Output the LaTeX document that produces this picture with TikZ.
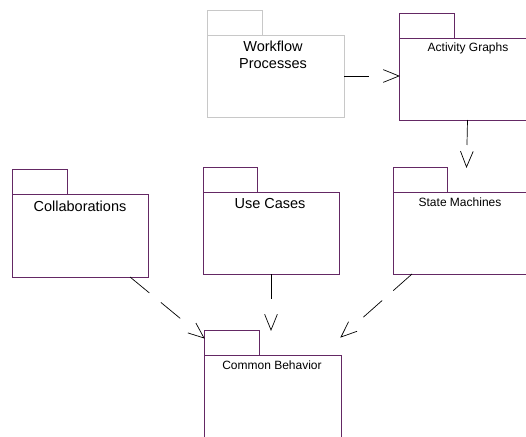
\documentclass[tikz,border=0pt]{standalone}
\usepackage{fontspec}
\setmainfont{Liberation Sans}
\usetikzlibrary{calc}
\definecolor{pkgpurple}{RGB}{100,40,100}
\definecolor{pkggray}{RGB}{200,200,200}
\tikzset{
  pkgbody/.style={draw=pkgpurple, line width=0.9pt, anchor=north west,
    minimum width=137pt, minimum height=82pt, inner sep=0pt, outer sep=0pt},
  pkgtab/.style={draw=pkgpurple, line width=0.9pt, anchor=south west,
    minimum width=55pt, minimum height=25pt, inner sep=0pt, outer sep=0pt},
  graypkg/.style={draw=pkggray},
  bigtxt/.style={font=\fontsize{14.5}{17}\selectfont, inner sep=0pt, align=center},
  smalltxt/.style={font=\fontsize{12}{14}\selectfont, inner sep=0pt, anchor=base},
  depline/.style={draw=black, line width=0.7pt, dash pattern=on 25pt off 15pt},
  dephead/.style={draw=black, line width=0.7pt, line join=miter},
}
\newcommand\depend[2]{%
  \draw[depline] (#1) -- ($(#2)!16pt!(#1)$);
  \draw[dephead] ($(#2)!17pt!22:(#1)$) -- (#2) -- ($(#2)!17pt!-22:(#1)$);}
\begin{document}
\begin{tikzpicture}[x=1pt,y=-1pt]
\useasboundingbox (0,0) rectangle (526,436);
\clip (0,0) rectangle (526,436);
% Workflow Processes (gray)
\node[pkgbody, graypkg] (wf) at (207,35) {};
\node[pkgtab, graypkg] (wftab) at (207,35) {};
\node[bigtxt] (wftxt) at (273,55) {Workflow\\Processes};
% Activity Graphs
\node[pkgbody] (ag) at (399,38) {};
\node[pkgtab] (agtab) at (399,38) {};
\node[smalltxt] (agtxt) at (468,51) {Activity Graphs};
% Collaborations
\node[pkgbody, minimum width=136pt, minimum height=83pt] (co) at (12,194) {};
\node[pkgtab] (cotab) at (12,194) {};
\node[bigtxt, anchor=base] (cotxt) at (80,211) {Collaborations};
% Use Cases
\node[pkgbody, minimum width=136pt] (uc) at (203,192) {};
\node[pkgtab, minimum width=54pt] (uctab) at (203,192) {};
\node[bigtxt, anchor=base] (uctxt) at (270,208) {Use Cases};
% State Machines
\node[pkgbody] (sm) at (393,192) {};
\node[pkgtab, minimum width=54pt] (smtab) at (393,192) {};
\node[smalltxt] (smtxt) at (460,206) {State Machines};
% Common Behavior
\node[pkgbody] (cb) at (204,355) {};
\node[pkgtab] (cbtab) at (204,355) {};
\node[smalltxt] (cbtxt) at (272,369) {Common Behavior};
% connector end points
\coordinate (wfout) at (wf.east);
\coordinate (agin) at (ag.west |- wf.east);
\coordinate (agout) at (ag.south);
\coordinate (smin) at ($(ag.south)+(-1,47)$);
\coordinate (coout) at ($(co.south west)!0.868!(co.south east)$);
\coordinate (cbinleft) at ($(cbtab.north west)!0.32!(cbtab.south west)$);
\coordinate (ucout) at (uc.south);
\coordinate (cbintop) at (uc.south |- cbtab.north);
\coordinate (smout) at ($(sm.south west)+(19,0)$);
\coordinate (cbinright) at ($(cb.north east)+(0,-18)$);
% dependencies
\depend{wfout}{agin}
\depend{agout}{smin}
\depend{coout}{cbinleft}
\depend{ucout}{cbintop}
\depend{smout}{cbinright}
\end{tikzpicture}
\end{document}
